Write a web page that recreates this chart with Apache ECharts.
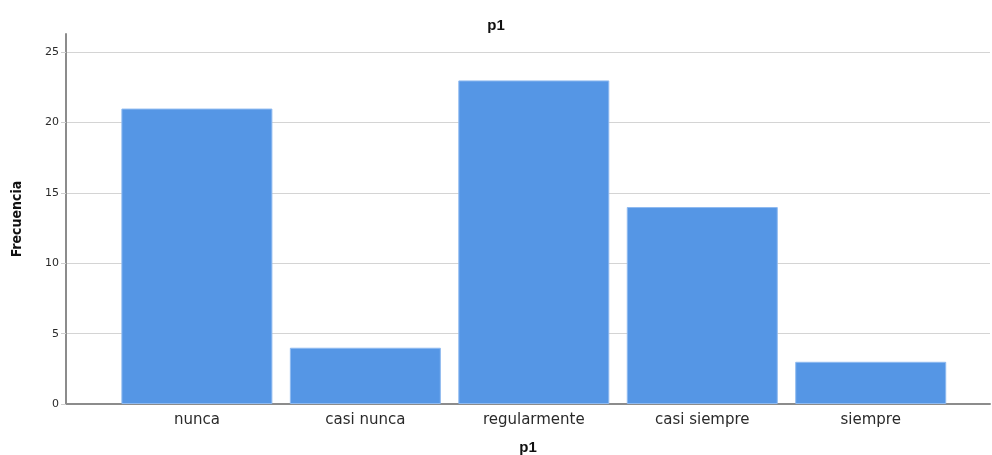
<!DOCTYPE html>
<html><head><meta charset="utf-8">
<script src="https://cdn.jsdelivr.net/npm/echarts@6/dist/echarts.min.js"></script>
<style>html,body{margin:0;padding:0;background:#fff}#c{width:992px;height:455px}</style>
</head><body><div id="c"></div>
<script>
const categories = ['nunca', 'casi nunca', 'regularmente', 'casi siempre', 'siempre'];
const frecuencia = [21, 4, 23, 14, 3];
const yTicks = [0, 5, 10, 15, 20, 25];

const chart = echarts.init(document.getElementById('c'), null, {renderer: 'canvas'});
chart.setOption({
  animation: false,
  title: {text: 'p1', left: 'center', top: 13, textStyle: {fontFamily: 'Liberation Sans', fontSize: 15, fontWeight: 'bold', color: '#111'}},
  grid: {left: 66, right: 2, top: 34, bottom: 51, containLabel: false, outerBoundsMode: 'none'},
  xAxis: {
    type: 'value', min: -0.777, max: 4.708,
    name: 'p1', nameLocation: 'middle', nameGap: 36,
    nameTextStyle: {fontFamily: 'Liberation Sans', fontSize: 15, fontWeight: 'bold', color: '#111'},
    axisLine: {show: true, onZero: false, lineStyle: {color: '#8c8c8c', width: 2}},
    axisTick: {show: false},
    splitLine: {show: false},
    axisLabel: {customValues: categories.map((c, i) => i), formatter: v => categories[Math.round(v)] || '',
      fontFamily: 'DejaVu Sans', fontSize: 15, color: '#2a2a2a', margin: 9}
  },
  yAxis: {
    type: 'value', min: 0, max: 26.3, interval: 5,
    name: 'Frecuencia', nameLocation: 'middle', nameGap: 42, nameRotate: 90,
    nameTextStyle: {fontFamily: 'DejaVu Sans Condensed', fontSize: 14, fontWeight: 'bold', color: '#111'},
    axisLine: {show: true, onZero: false, lineStyle: {color: '#8c8c8c', width: 2}},
    axisTick: {show: true, length: 5, lineStyle: {color: '#cfcfcf'}, customValues: yTicks},
    splitLine: {show: true, lineStyle: {color: '#d4d4d4', width: 1}},
    axisLabel: {customValues: yTicks, fontFamily: 'DejaVu Sans', fontSize: 11, color: '#2a2a2a', margin: 7}
  },
  series: [{
    type: 'bar', barWidth: 151,
    data: frecuencia.map((v, i) => [i, v]),
    itemStyle: {color: '#5596e5', borderColor: '#8fbaf0', borderWidth: 1}
  }]
});
</script></body></html>
